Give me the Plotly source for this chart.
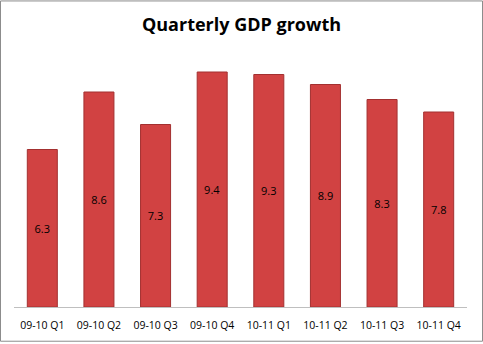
import plotly.graph_objects as go

categories = ["09-10 Q1", "09-10 Q2", "09-10 Q3", "09-10 Q4",
              "10-11 Q1", "10-11 Q2", "10-11 Q3", "10-11 Q4"]
growth = [6.3, 8.6, 7.3, 9.4, 9.3, 8.9, 8.3, 7.8]

W, H = 483, 344
L, R, T, B = 14, 16, 57, 35
pw, ph = W - L - R, H - T - B

fig = go.Figure()
fig.add_trace(go.Bar(
    x=categories, y=growth,
    text=[f"{v:.1f}" for v in growth],
    textposition="inside", insidetextanchor="middle",
    textfont=dict(family="Open Sans, Lato, sans-serif", size=11, color="#000000"),
    marker=dict(color="#D14242", line=dict(color="#A33030", width=1)),
    width=0.53,
))

fig.update_layout(
    width=W, height=H,
    margin=dict(l=L, r=R, t=T, b=B),
    paper_bgcolor="white", plot_bgcolor="white",
    showlegend=False,
    title=dict(text="<b>Quarterly GDP growth</b>", x=0.5, xanchor="center",
               y=1 - 25 / H, yanchor="middle",
               font=dict(family="Open Sans, Lato, sans-serif", size=18, color="#000000")),
    xaxis=dict(showline=True, linecolor="#BFBFBF", linewidth=1, ticks="",
               ticklabelstandoff=8,
               tickfont=dict(family="Open Sans, Lato, sans-serif", size=10.5, color="#000000"),
               showgrid=False, fixedrange=True),
    yaxis=dict(range=[0, 10], visible=False, showgrid=False, fixedrange=True),
)

fig.add_shape(type="rect", xref="paper", yref="paper",
              x0=(0.5 - L) / pw, x1=(W - 0.5 - L) / pw,
              y0=(H - B - (H - 0.5)) / ph, y1=(H - B - 0.5) / ph,
              line=dict(color="#8C8C8C", width=1), fillcolor="rgba(0,0,0,0)",
              layer="above")

fig.write_html("out.html")
